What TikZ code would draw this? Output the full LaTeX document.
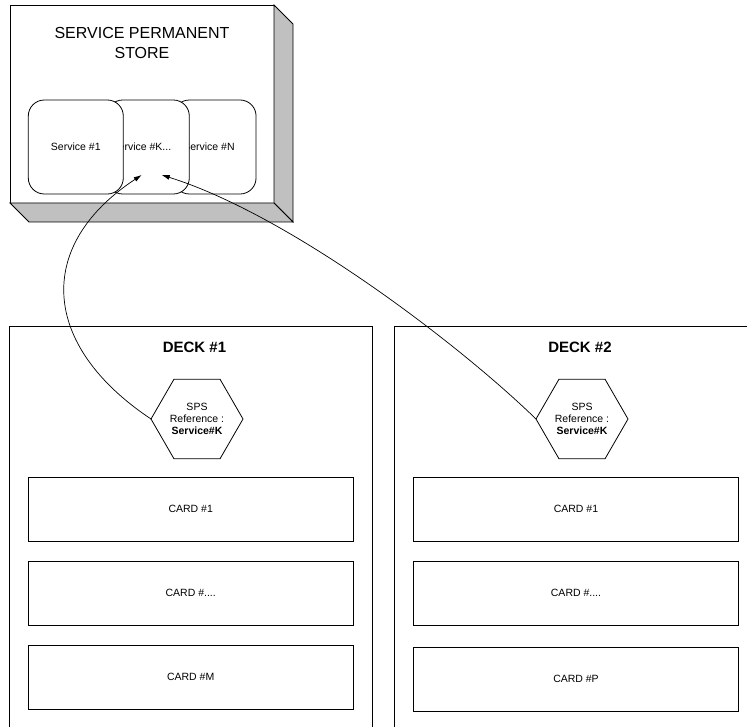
\documentclass[tikz,border=0pt]{standalone}
\usepackage{fontspec}
\setmainfont{Liberation Sans}
\usetikzlibrary{shapes.geometric,arrows.meta}
\begin{document}
\begin{tikzpicture}[x=1pt,y=-1pt,
  every node/.style={inner sep=0pt,outer sep=0pt},
  lw/.style={line width=0.8pt},
  smalltext/.style={font=\fontsize{10.5}{12}\selectfont},
  svc/.style={draw,lw,fill=white,rounded corners=16pt,minimum height=94pt},
  deckbox/.style={draw,lw,fill=white,minimum width=363.2pt,minimum height=414pt},
  deckttl/.style={font=\fontsize{15}{18}\selectfont\bfseries},
  cardbox/.style={draw,lw,fill=white,minimum width=324.7pt,minimum height=64pt,smalltext},
  hexa/.style={draw,lw,fill=white,regular polygon,regular polygon sides=6,minimum size=92pt,align=center,smalltext},
  shade/.style={draw,lw,fill={rgb,255:red,192;green,192;blue,192}},
  conn/.style={line width=0.7pt,-{Latex[length=8pt,width=5pt]}}]
\useasboundingbox (0,0) rectangle (747,727);
\clip (0,0) rectangle (747,727);
% store
\node[draw,lw,fill=white,minimum width=264pt,minimum height=198pt] (store) at (142,104) {};
\draw[shade] (store.north east) -- ++(19,19) -- ++(0,198) -- (store.south east) -- cycle;
\draw[shade] (store.south west) -- (store.south east) -- ++(19,19) -- ++(-264,0) -- cycle;
\node[align=center,font=\fontsize{16}{19.5}\selectfont] (title) at (142,43) {SERVICE PERMANENT\\STORE};
\node[svc,minimum width=82.7pt] (svcN) at (214.7,147) {};
\node[smalltext] (svcNt) at (209,147) {Service \#N};
\node[svc,minimum width=82.6pt] (svcK) at (148,147) {};
\node[smalltext] (svcKt) at (141.5,147) {Service \#K...};
\node[svc,minimum width=95pt] (svc1) at (75.8,147) {};
\node[smalltext] (svc1t) at (75.8,147) {Service \#1};
% decks
\node[deckbox] (deck1) at (191.1,533) {};
\node[deckbox] (deck2) at (576.1,533) {};
\node[deckttl] (deck1t) at (194.5,347) {DECK \#1};
\node[deckttl] (deck2t) at (580,347) {DECK \#2};
\node[hexa] (sps1) at (197,419) {SPS\\Reference :\\\textbf{Service\#K}};
\node[hexa] (sps2) at (582,419) {SPS\\Reference :\\\textbf{Service\#K}};
\node[cardbox] (d1c1) at (190.7,509) {CARD \#1};
\node[cardbox] (d1c2) at (190.7,593) {CARD \#....};
\node[cardbox] (d1c3) at (190.7,677) {CARD \#M};
\node[cardbox] (d2c1) at (576,509) {CARD \#1};
\node[cardbox] (d2c2) at (576,593) {CARD \#....};
\node[cardbox] (d2c3) at (576,679) {CARD \#P};
% connectors
\coordinate (tip1) at (141.7,175);
\coordinate (tip2) at (161.7,175);
\draw[conn] (sps1.west) .. controls (40,345) and (35,245) .. (tip1);
\draw[conn] (sps2.west) .. controls (460,345) and (290,215) .. (tip2);
\end{tikzpicture}
\end{document}
